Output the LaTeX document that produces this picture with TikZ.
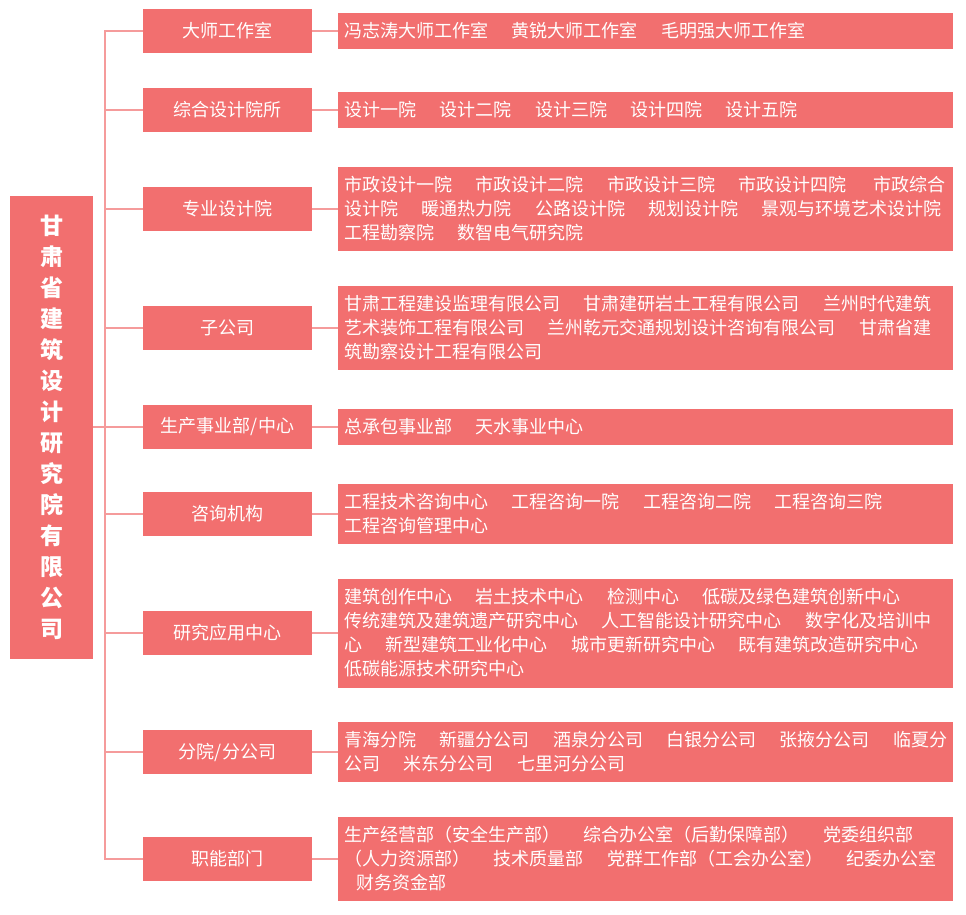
\documentclass[tikz,border=0pt]{standalone}
\usepackage{fontspec}
\newfontfamily\cjk{Noto Sans CJK SC}
\definecolor{boxc}{RGB}{242,111,111}
\definecolor{linec}{RGB}{245,155,155}
\newcommand\gp{\hspace{23.3pt}}
\begin{document}
\begin{tikzpicture}[x=1pt,y=-1pt,
  box/.style={fill=boxc, text=white, inner sep=0pt, font=\cjk\fontsize{18}{24}\selectfont},
  cat/.style={box, minimum width=169pt, minimum height=44pt},
  det/.style={box, anchor=west, minimum width=615pt, text width=602pt, align=left, inner xsep=6.5pt, inner ysep=0pt},
  rootbox/.style={fill=boxc, text=white, inner sep=0pt, minimum width=83pt, minimum height=463pt, align=center, font=\cjk\bfseries\fontsize{23}{31}\selectfont},
  conn/.style={draw=linec, line width=2pt}]
\useasboundingbox (0,0) rectangle (966,914);

\node[rootbox] (root) at (51.5,427) {甘\\肃\\省\\建\\筑\\设\\计\\研\\究\\院\\有\\限\\公\\司};

\node[cat] (c1) at (227.5,31) {大师工作室};
\node[cat] (c2) at (227.5,110) {综合设计院所};
\node[cat] (c3) at (227.5,209) {专业设计院};
\node[cat] (c4) at (227.5,328) {子公司};
\node[cat] (c5) at (227.5,427) {生产事业部/中心};
\node[cat] (c6) at (227.5,514) {咨询机构};
\node[cat] (c7) at (227.5,633) {研究应用中心};
\node[cat] (c8) at (227.5,752) {分院/分公司};
\node[cat] (c9) at (227.5,859) {职能部门};

\node[det, minimum height=36pt] (d1) at (338,31) {\mbox{冯志涛大师工作室\gp 黄锐大师工作室\gp 毛明强大师工作室}};
\node[det, minimum height=36pt] (d2) at (338,110) {\mbox{设计一院\gp 设计二院\gp 设计三院\gp 设计四院\gp 设计五院}};
\node[det, minimum height=84pt] (d3) at (338,209) {\mbox{市政设计一院\gp 市政设计二院\gp 市政设计三院\gp 市政设计四院\hspace{27pt}市政综合}\\\mbox{设计院\gp 暖通热力院\gp 公路设计院\gp 规划设计院\gp 景观与环境艺术设计院}\\\mbox{工程勘察院\gp 数智电气研究院}};
\node[det, minimum height=84pt] (d4) at (338,328) {\mbox{甘肃工程建设监理有限公司\gp 甘肃建研岩土工程有限公司\gp 兰州时代建筑}\\\mbox{艺术装饰工程有限公司\gp 兰州乾元交通规划设计咨询有限公司\gp 甘肃省建}\\\mbox{筑勘察设计工程有限公司}};
\node[det, minimum height=36pt] (d5) at (338,427) {\mbox{总承包事业部\gp 天水事业中心}};
\node[det, minimum height=60pt] (d6) at (338,514) {\mbox{工程技术咨询中心\gp 工程咨询一院\gp 工程咨询二院\gp 工程咨询三院}\\\mbox{工程咨询管理中心}};
\node[det, minimum height=109pt] (d7) at (338,633) {\mbox{建筑创作中心\gp 岩土技术中心\gp 检测中心\gp 低碳及绿色建筑创新中心}\\\mbox{传统建筑及建筑遗产研究中心\gp 人工智能设计研究中心\gp 数字化及培训中}\\\mbox{心\gp 新型建筑工业化中心\gp 城市更新研究中心\gp 既有建筑改造研究中心}\\\mbox{低碳能源技术研究中心}};
\node[det, minimum height=60pt] (d8) at (338,752) {\mbox{青海分院\gp 新疆分公司\gp 酒泉分公司\gp 白银分公司\gp 张掖分公司\gp 临夏分}\\\mbox{公司\gp 米东分公司\gp 七里河分公司}};
\node[det, minimum height=84pt] (d9) at (338,859) {\mbox{生产经营部（安全生产部）\gp 综合办公室（后勤保障部）\gp 党委组织部}\\\mbox{（人力资源部）\gp 技术质量部\gp 党群工作部（工会办公室）\gp 纪委办公室}\\\mbox{\hspace*{12pt}财务资金部}};

\coordinate (tx) at (104.5,0);
\draw[conn] (c1.west) -- (c1.west -| tx) -- (c9.west -| tx) -- (c9.west);
\draw[conn] (root.east) -- (c5.west);
\foreach \i in {2,3,4,6,7,8} {\draw[conn] (c\i.west -| tx) -- (c\i.west);}
\foreach \i in {1,...,9} {\draw[conn] (c\i.east) -- (d\i.west);}
\end{tikzpicture}
\end{document}
